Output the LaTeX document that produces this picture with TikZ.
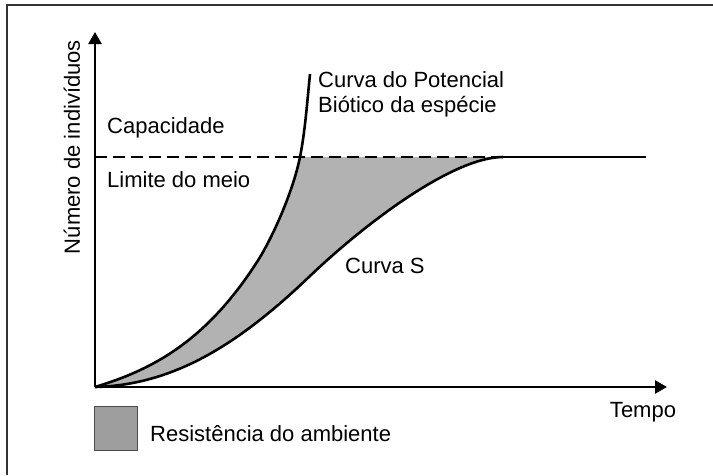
\documentclass[tikz,border=0pt]{standalone}
\usepackage{fontspec}
\setmainfont{Liberation Sans}
\usetikzlibrary{arrows.meta}
\begin{document}
\begin{tikzpicture}[x=1pt,y=-1pt,
  lbl/.style={anchor=west,inner sep=0pt,font=\fontsize{22}{27}\selectfont},
  axis/.style={line width=2.5pt,-{Triangle[length=12pt,width=13pt]}},
  curve/.style={line width=2.6pt,line join=round},
  region/.style={fill=black!30},
  legendbox/.style={fill=black!38,draw=black!70,line width=1pt}]
\useasboundingbox (0,0) rectangle (713,475);
% frame
\draw[line width=1.5pt,black!80] (7,475) -- (7,5) -- (713,5);
% coordinates
\coordinate (O) at (95,387);
\coordinate (ytip) at (95,32);
\coordinate (xtip) at (667,387);
\coordinate (K0) at (95,157);
\coordinate (X) at (300,157);
\coordinate (K1) at (503,157);
\coordinate (K2) at (646,157);
\coordinate (E1) at (257,262);
\coordinate (Etop) at (310,74);
\coordinate (S1) at (310,276);
% shaded region
\fill[region] (O) .. controls (155,369) and (207,339.5) .. (E1)
  .. controls (272,238.75) and (293,192) .. (X) -- (K1)
  .. controls (453,157) and (365,223.4) .. (S1)
  .. controls (240,343) and (175,385) .. (O) -- cycle;
% curves
\draw[curve] (O) .. controls (155,369) and (207,339.5) .. (E1)
  .. controls (272,238.75) and (293,192) .. (X)
  .. controls (305,132) and (307,104) .. (Etop);
\draw[curve] (O) .. controls (175,385) and (240,343) .. (S1)
  .. controls (365,223.4) and (453,157) .. (K1);
% carrying capacity
\draw[line width=2.4pt,dash pattern=on 12pt off 6pt] (K0) -- (K1);
\draw[line width=2.6pt] (K1) -- (K2);
% axes
\draw[axis] (O) -- (ytip);
\draw[axis] (O) -- (xtip);
% labels
\node[lbl,anchor=center,rotate=90] (ylab) at (72,147) {Número de indivíduos};
\node[lbl] (cap) at (107,128) {Capacidade};
\node[lbl] (lim) at (107,180) {Limite do meio};
\node[lbl] (pot1) at (318,80) {Curva do Potencial};
\node[lbl] (pot2) at (318,107) {Biótico da espécie};
\node[lbl] (cs) at (345,266) {Curva S};
\node[lbl,anchor=center] (tempo) at (643,412) {Tempo};
% legend
\node[legendbox,minimum width=43pt,minimum height=44pt,inner sep=0pt] (leg) at (115.5,428) {};
\node[lbl] (legt) at (150,434) {Resistência do ambiente};
\end{tikzpicture}
\end{document}
